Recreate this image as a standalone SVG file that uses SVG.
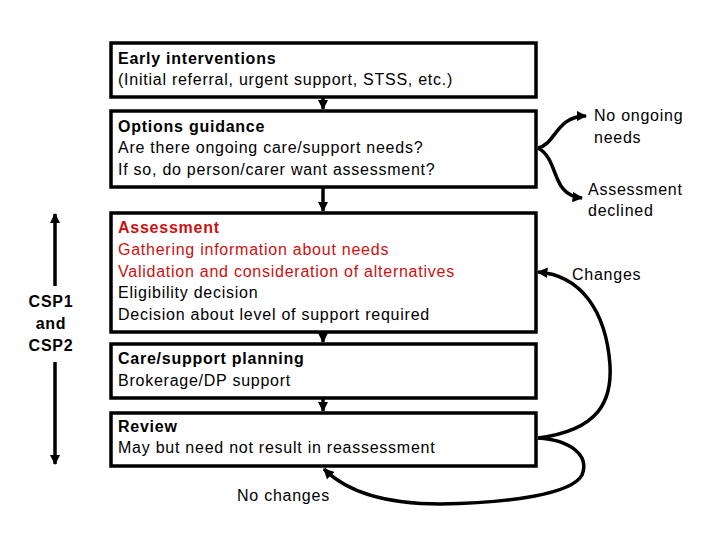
<svg xmlns="http://www.w3.org/2000/svg" width="720" height="540" viewBox="0 0 720 540">
<defs>
<style>
.box{fill:#fff;stroke:#000;stroke-width:3.5}
.t{font-family:"Liberation Sans",Arial,sans-serif;font-size:16px;letter-spacing:0.75px;fill:#000}
.b{font-weight:bold}
.r{fill:#cc1111}
.c{fill:none;stroke:#000;stroke-width:3.5}
</style>
<marker id="ah" viewBox="0 0 10 10" refX="9" refY="5" markerWidth="3" markerHeight="3" orient="auto-start-reverse" markerUnits="strokeWidth">
<path d="M0,0 L10,5 L0,10 z" fill="#000"/>
</marker>
</defs>
<rect width="720" height="540" fill="#fff"/>
<g id="connectors">
<line class="c" x1="323" y1="98" x2="323" y2="109" marker-end="url(#ah)"/>
<line class="c" x1="323" y1="188" x2="323" y2="211" marker-end="url(#ah)"/>
<line class="c" x1="323" y1="333" x2="323" y2="342" marker-end="url(#ah)"/>
<line class="c" x1="323" y1="399" x2="323" y2="411" marker-end="url(#ah)"/>
<path class="c" d="M538,148 C556,144 556,116 586,116" marker-end="url(#ah)"/>
<path class="c" d="M538,148 C560,160 550,195 582,198" marker-end="url(#ah)"/>
<path class="c" d="M538,438 C600,430 612,400 610,365 C606,310 580,275 538,272" marker-end="url(#ah)"/>
<path class="c" d="M538,438 C570,440 590,455 582,475 C572,494 510,503 440,504 C380,504 345,490 324,469" marker-end="url(#ah)"/>
<line class="c" x1="55" y1="286" x2="55" y2="214" marker-end="url(#ah)"/>
<line class="c" x1="55" y1="362" x2="55" y2="464" marker-end="url(#ah)"/>
</g>
<g id="early">
<rect class="box" x="111" y="43" width="425" height="54"/>
<text class="t b" x="118" y="64">Early interventions</text>
<text class="t" x="118" y="85">(Initial referral, urgent support, STSS, etc.)</text>
</g>
<g id="options">
<rect class="box" x="111" y="111" width="425" height="76"/>
<text class="t b" x="118" y="132">Options guidance</text>
<text class="t" x="118" y="153">Are there ongoing care/support needs?</text>
<text class="t" x="118" y="175">If so, do person/carer want assessment?</text>
</g>
<g id="assessment">
<rect class="box" x="111" y="213" width="425" height="119"/>
<text class="t b r" x="118" y="233">Assessment</text>
<text class="t r" x="118" y="255">Gathering information about needs</text>
<text class="t r" x="118" y="277">Validation and consideration of alternatives</text>
<text class="t" x="118" y="298">Eligibility decision</text>
<text class="t" x="118" y="320">Decision about level of support required</text>
</g>
<g id="planning">
<rect class="box" x="111" y="344" width="425" height="54"/>
<text class="t b" x="118" y="364">Care/support planning</text>
<text class="t" x="118" y="386">Brokerage/DP support</text>
</g>
<g id="review">
<rect class="box" x="111" y="413" width="425" height="53"/>
<text class="t b" x="118" y="432">Review</text>
<text class="t" x="118" y="453">May but need not result in reassessment</text>
</g>
<g id="labels">
<text class="t" x="594" y="121">No ongoing</text>
<text class="t" x="594" y="143">needs</text>
<text class="t" x="588" y="195">Assessment</text>
<text class="t" x="588" y="216">declined</text>
<text class="t" x="572" y="280">Changes</text>
<text class="t" x="237" y="501">No changes</text>
<text class="t b" x="51" y="307" text-anchor="middle">CSP1</text>
<text class="t b" x="51" y="329" text-anchor="middle">and</text>
<text class="t b" x="51" y="351" text-anchor="middle">CSP2</text>
</g>
</svg>
